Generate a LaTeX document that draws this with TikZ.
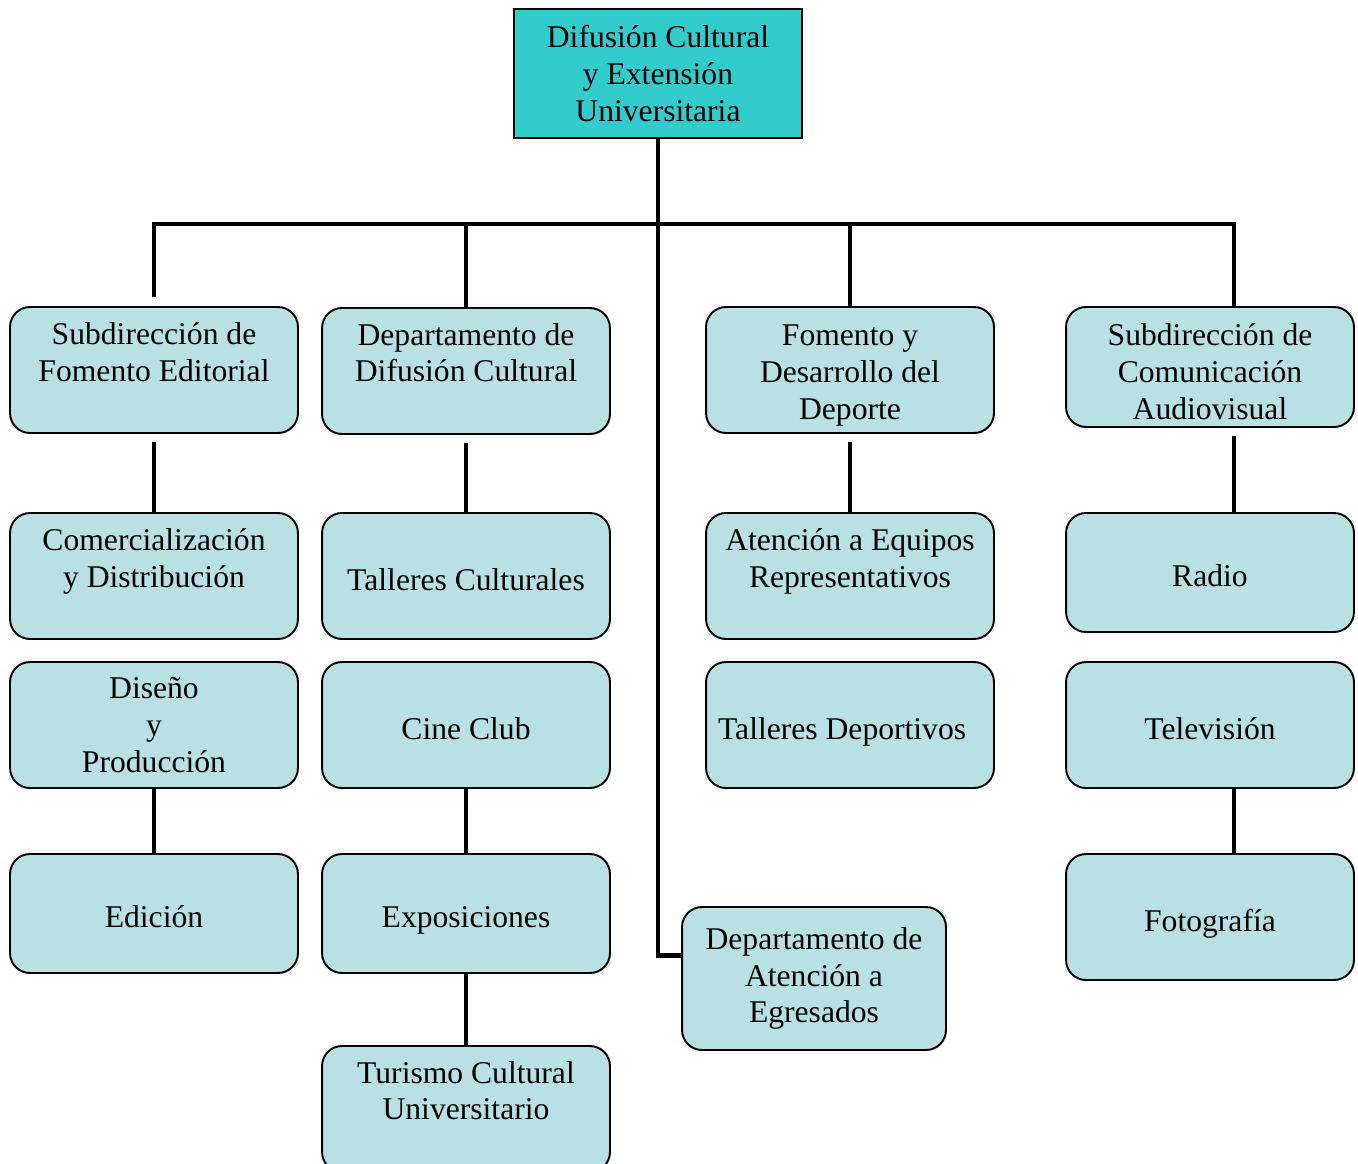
\documentclass[tikz,border=0pt]{standalone}
\usepackage{fontspec}
\setmainfont{Liberation Serif}
\definecolor{turquesa}{RGB}{51,204,204}
\definecolor{celeste}{RGB}{185,224,227}
\newcommand{\alto}{\rule{0pt}{18pt}}

\begin{document}
\begin{tikzpicture}[x=0.02cm, y=-0.02cm,
	caja/.style={draw, line width=1.1pt, fill=celeste, rounded corners=0.4cm, minimum width=5.76cm, minimum height=2.52cm, align=center, inner sep=0pt, font=\fontsize{18}{21}\selectfont},
	sola/.style={caja, text height=16pt, text depth=0pt},
	jefe/.style={draw, line width=1.1pt, fill=turquesa, minimum width=5.76cm, minimum height=2.58cm, align=center, inner sep=0pt, font=\fontsize{18}{21}\selectfont},
	linea/.style={line width=2.8pt}
]

	\useasboundingbox (0,0) rectangle (1358,1163);

	\node[jefe] (difusion) at (658,73.5) {Difusión Cultural\\y Extensión\\Universitaria};

	\node[caja] (editorial) at (154,370) {Subdirección de\\Fomento Editorial\\\mbox{}};
	\node[caja] (departamento) at (466,371) {Departamento de\\Difusión Cultural\\\mbox{}};
	\node[caja] (deporte) at (850,370) {\alto Fomento y\\Desarrollo del\\Deporte};
	\node[caja, minimum height=2.4cm] (audiovisual) at (1210,367) {\alto Subdirección de\\Comunicación\\Audiovisual};

	\node[caja] (comercial) at (154,576) {Comercialización\\y Distribución\\\mbox{}};
	\node[sola] (talleres) at (466,576) {Talleres Culturales};
	\node[caja] (equipos) at (850,576) {Atención a Equipos\\Representativos\\\mbox{}};
	\node[sola, minimum height=2.38cm] (radio) at (1210,572.5) {Radio};

	\node[caja] (diseno) at (154,725) {Diseño\\y\\Producción};
	\node[sola] (cine) at (466,725) {Cine Club};
	\node[sola] (deportivos) at (850,725) {Talleres Deportivos~~};
	\node[sola] (television) at (1210,725) {Televisión};

	\node[sola, minimum height=2.38cm] (edicion) at (154,913.5) {Edición};
	\node[sola, minimum height=2.38cm] (exposiciones) at (466,913.5) {Exposiciones};
	\node[sola] (fotografia) at (1210,917) {Fotografía};

	\node[caja] (turismo) at (466,1109) {Turismo Cultural\\Universitario\\\mbox{}};
	\node[caja, minimum width=5.28cm, minimum height=2.86cm] (egresados) at (814,978.5) {Departamento de\\Atención a\\Egresados};

	\coordinate (bus) at (658,224);
	\coordinate (ejeD) at (1234,224);

	\draw[linea] (difusion.south) |- (egresados.170);
	\draw[linea, shorten <=0.18cm] (editorial.north) -- (editorial.north |- bus) -- (ejeD) -- (ejeD |- audiovisual.north);
	\draw[linea] (departamento.north |- bus) -- (departamento.north);
	\draw[linea] (deporte.north |- bus) -- (deporte.north);

	\draw[linea, shorten <=0.16cm] (editorial) -- (comercial);
	\draw[linea, shorten <=0.16cm] (departamento) -- (talleres);
	\draw[linea, shorten <=0.16cm] (deporte) -- (equipos);
	\draw[linea, shorten <=0.16cm] (ejeD |- audiovisual.south) -- (ejeD |- radio.north);

	\draw[linea] (diseno) -- (edicion);
	\draw[linea] (cine) -- (exposiciones);
	\draw[linea] (exposiciones) -- (turismo);
	\draw[linea] (ejeD |- television.south) -- (ejeD |- fotografia.north);
\end{tikzpicture}
\end{document}
